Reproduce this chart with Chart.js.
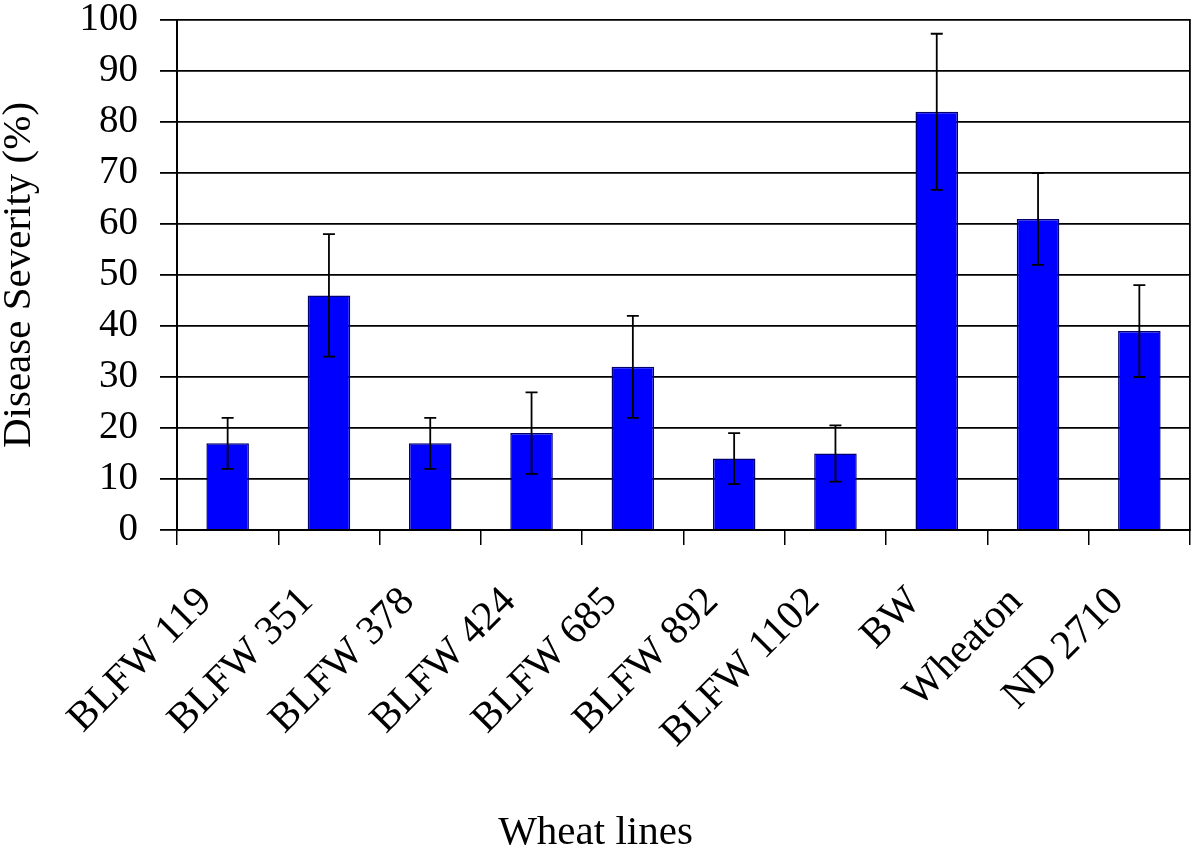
<!DOCTYPE html>
<html>
<head>
<meta charset="utf-8">
<script src="https://cdn.jsdelivr.net/npm/chart.js@4.4.0/dist/chart.umd.min.js"></script>
<style>
  html, body { margin: 0; padding: 0; background: #ffffff; }
  #wrap { width: 1200px; height: 850px; }
</style>
</head>
<body>
<div id="wrap"><canvas id="c" width="1200" height="850"></canvas></div>
<script>
const categories = ["BLFW 119", "BLFW 351", "BLFW 378", "BLFW 424", "BLFW 685", "BLFW 892", "BLFW 1102", "BW", "Wheaton", "ND 2710"];
const severity = [17, 46, 17, 19, 32, 14, 15, 82, 61, 39];
const errors = [5, 12, 5, 8, 10, 5, 5.5, 15.3, 9, 9];
const yTicks = [0, 10, 20, 30, 40, 50, 60, 70, 80, 90, 100];

const FONT = "'Liberation Serif', 'Times New Roman', serif";
const TITLE_PAD_BOTTOM = -8;
const TITLE_H = 41 * 1.2 + TITLE_PAD_BOTTOM;

const errorBarPlugin = {
  id: 'errorBars',
  afterDatasetsDraw(chart) {
    const ctx = chart.ctx;
    const meta = chart.getDatasetMeta(0);
    const y = chart.scales.y;
    ctx.save();
    ctx.strokeStyle = '#000000';
    ctx.lineWidth = 1.8;
    meta.data.forEach((bar, i) => {
      const v = severity[i], e = errors[i];
      const x = bar.x;
      const yHi = y.getPixelForValue(v + e);
      const yLo = y.getPixelForValue(v - e);
      const cap = 6;
      ctx.beginPath();
      ctx.moveTo(x, yHi); ctx.lineTo(x, yLo);
      ctx.moveTo(x - cap, yHi); ctx.lineTo(x + cap, yHi);
      ctx.moveTo(x - cap, yLo); ctx.lineTo(x + cap, yLo);
      ctx.stroke();
    });
    ctx.restore();
  }
};

new Chart(document.getElementById('c'), {
  type: 'bar',
  data: {
    labels: categories,
    datasets: [{
      data: severity,
      backgroundColor: '#0000ff',
      borderColor: '#000070',
      borderWidth: 1.5,
      barPercentage: 0.42,
      categoryPercentage: 1.0
    }]
  },
  options: {
    responsive: false,
    animation: false,
    layout: { padding: { left: 0, right: 9, top: 2, bottom: 0 } },
    plugins: {
      legend: { display: false },
      tooltip: { enabled: false },
      title: {
        display: true,
        position: 'bottom',
        text: 'Wheat lines',
        color: '#000000',
        font: { family: FONT, size: 41, weight: 'normal' },
        padding: { top: 0, bottom: TITLE_PAD_BOTTOM }
      }
    },
    scales: {
      x: {
        offset: true,
        grid: {
          offset: true,
          drawOnChartArea: false,
          drawTicks: true,
          tickLength: 15,
          color: '#000000',
          lineWidth: 1.5
        },
        border: { display: true, color: '#000000', width: 2 },
        ticks: {
          autoSkip: false,
          maxRotation: 45,
          minRotation: 45,
          color: '#000000',
          padding: 33,
          labelOffset: -22,
          font: { family: FONT, size: 41 }
        },
        afterFit(s) { s.height = 850 - 530 - TITLE_H; s.paddingLeft = 0; s.paddingRight = 0; }
      },
      y: {
        min: 0,
        max: 100,
        afterBuildTicks(s) { s.ticks = yTicks.map(v => ({ value: v })); },
        grid: {
          drawOnChartArea: true,
          drawTicks: true,
          tickLength: 17,
          color: '#000000',
          lineWidth: 1.8
        },
        border: { display: true, color: '#000000', width: 2 },
        ticks: {
          color: '#000000',
          padding: 22,
          font: { family: FONT, size: 39, lineHeight: 1.0 }
        },
        title: {
          display: true,
          text: 'Disease Severity (%)',
          color: '#000000',
          font: { family: FONT, size: 41 },
          padding: { top: -5, bottom: 0 }
        },
        afterFit(s) { s.width = 177; s.paddingTop = 20; s.paddingBottom = 0; }
      },
      y2: {
        position: 'right',
        min: 0,
        max: 100,
        grid: { drawOnChartArea: false, drawTicks: false },
        border: { display: true, color: '#000000', width: 1.8 },
        ticks: { display: false },
        afterFit(s) { s.width = 1; }
      }
    }
  },
  plugins: [errorBarPlugin]
});
</script>
</body>
</html>
